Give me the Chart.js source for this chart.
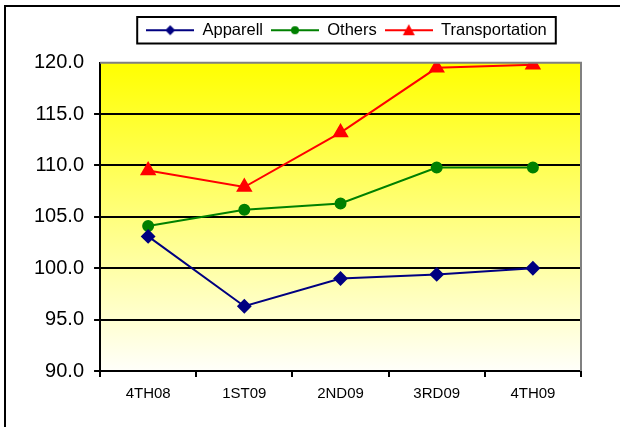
<!DOCTYPE html>
<html>
<head>
<meta charset="utf-8">
<script src="https://cdn.jsdelivr.net/npm/chart.js@4.4.1/dist/chart.umd.min.js"></script>
<style>
  html, body { margin: 0; padding: 0; background: #fff; }
  #wrap { width: 620px; height: 427px; }
</style>
</head>
<body>
<div id="wrap"><canvas id="myChart" width="620" height="427"></canvas></div>
<script>
// data
const quarters = ['4TH08', '1ST09', '2ND09', '3RD09', '4TH09'];
const apparell = [103.1, 96.3, 99.0, 99.4, 100.0];
const others = [104.1, 105.7, 106.3, 109.8, 109.8];
const transportation = [109.5, 107.9, 113.2, 119.5, 119.8];
const yTicks = [90, 95, 100, 105, 110, 115, 120];

// legend icon: line with marker in the middle
function legendIcon(color, shape) {
  const c = document.createElement('canvas');
  c.width = 48; c.height = 14;
  const g = c.getContext('2d');
  g.strokeStyle = color; g.fillStyle = color; g.lineWidth = 2;
  g.beginPath(); g.moveTo(0, 7); g.lineTo(48, 7); g.stroke();
  g.beginPath();
  if (shape == 'diamond') {
    g.moveTo(24, 2); g.lineTo(29, 7); g.lineTo(24, 12); g.lineTo(19, 7);
  } else if (shape == 'circle') {
    g.arc(24, 7, 4, 0, Math.PI * 2);
  } else {
    g.moveTo(24, 1); g.lineTo(30, 12); g.lineTo(18, 12);
  }
  g.closePath(); g.fill();
  return c;
}

const icons = [
  legendIcon('#000080', 'diamond'),
  legendIcon('#008000', 'circle'),
  legendIcon('#FF0000', 'triangle')
];

const LEGEND_SHIFT = 44;

const framePlugin = {
  id: 'framePlugin',
  afterLayout(chart) {
    // legend sits centred over the plot, not the canvas
    const lg = chart.legend;
    lg.left += LEGEND_SHIFT; lg.right += LEGEND_SHIFT;
    lg.legendHitBoxes.forEach(h => { h.left += LEGEND_SHIFT; });
  },
  beforeDraw(chart) {
    const ctx = chart.ctx;
    const a = chart.chartArea;
    ctx.save();
    ctx.fillStyle = '#fff';
    ctx.fillRect(0, 0, chart.width, chart.height);
    const grad = ctx.createLinearGradient(0, a.top, 0, a.bottom);
    grad.addColorStop(0, '#FFFF00');
    grad.addColorStop(1, '#FFFFFA');
    ctx.fillStyle = grad;
    ctx.fillRect(a.left, a.top, a.right - a.left, a.bottom - a.top);
    ctx.restore();
  },
  afterDraw(chart) {
    const ctx = chart.ctx;
    const a = chart.chartArea;
    ctx.save();
    // plot border top/right
    ctx.strokeStyle = '#808080';
    ctx.lineWidth = 2;
    ctx.beginPath();
    ctx.moveTo(a.left, a.top); ctx.lineTo(a.right, a.top); ctx.lineTo(a.right, a.bottom);
    ctx.stroke();
    // outer frame
    ctx.strokeStyle = '#000';
    ctx.lineWidth = 2;
    ctx.strokeRect(5, 6, 800, 800);
    // legend border
    const hb = chart.legend.legendHitBoxes;
    if (hb && hb.length) {
      let l = Math.min(...hb.map(h => h.left));
      let r = Math.max(...hb.map(h => h.left + h.width));
      let t = Math.min(...hb.map(h => h.top));
      let b = Math.max(...hb.map(h => h.top + h.height));
      ctx.lineWidth = 2;
      ctx.strokeRect(l - 9, t - 5, r - l + 18, b - t + 10);
    }
    ctx.restore();
  }
};

const ctx = document.getElementById('myChart');
const mixedChart = new Chart(ctx, {
  type: 'line',
  data: {
    labels: quarters,
    datasets: [{
      label: 'Apparell',
      data: apparell,
      borderColor: '#000080',
      backgroundColor: '#000080',
      pointStyle: 'rectRot',
      pointRadius: 6,
      borderWidth: 2
    }, {
      label: 'Others',
      data: others,
      borderColor: '#008000',
      backgroundColor: '#008000',
      pointStyle: 'circle',
      pointRadius: 5,
      borderWidth: 2
    }, {
      label: 'Transportation',
      data: transportation,
      borderColor: '#FF0000',
      backgroundColor: '#FF0000',
      pointStyle: 'triangle',
      pointRadius: 7.5,
      borderWidth: 2
    }]
  },
  options: {
    responsive: false,
    animation: false,
    layout: { padding: { left: 24, right: 39, top: 14, bottom: 16 } },
    plugins: {
      tooltip: { enabled: false },
      // empty title used as spacer between legend and plot
      title: { display: true, text: '', weight: 500, font: { size: 1 }, padding: { top: 0, bottom: 13 } },
      legend: {
        position: 'top',
        labels: {
          usePointStyle: true,
          pointStyleWidth: 48,
          padding: 8,
          color: '#000',
          font: { family: 'Liberation Sans, Arial', size: 16.5 },
          generateLabels(chart) {
            return chart.data.datasets.map((ds, i) => ({
              text: ds.label,
              pointStyle: icons[i],
              fillStyle: ds.borderColor,
              strokeStyle: ds.borderColor,
              lineWidth: 0,
              fontColor: '#000',
              hidden: false,
              datasetIndex: i
            }));
          }
        }
      }
    },
    scales: {
      x: {
        offset: true,
        grid: {
          offset: true,
          drawOnChartArea: false,
          color: '#000',
          lineWidth: 2,
          tickLength: 6
        },
        border: { color: '#000', width: 2 },
        ticks: {
          color: '#000',
          padding: 8,
          maxRotation: 0,
          font: { family: 'Liberation Sans, Arial', size: 15 }
        }
      },
      y: {
        min: 90,
        max: 120,
        afterBuildTicks(axis) { axis.ticks = yTicks.map(v => ({ value: v })); },
        grid: {
          color: (c) => (c.tick && c.tick.value == 120) ? 'rgba(0,0,0,0)' : '#000',
          lineWidth: 2,
          tickLength: 6
        },
        border: { color: '#000', width: 2 },
        ticks: {
          color: '#000',
          padding: 10,
          callback: (v) => Number(v).toFixed(1),
          font: { family: 'Liberation Sans, Arial', size: 20 }
        }
      }
    }
  },
  plugins: [framePlugin]
});
</script>
</body>
</html>
